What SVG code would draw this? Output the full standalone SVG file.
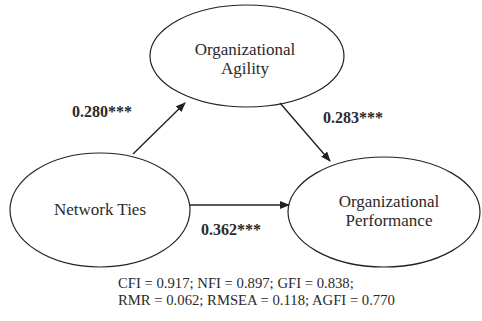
<svg xmlns="http://www.w3.org/2000/svg" width="482" height="321" viewBox="0 0 482 321">
<style>
.node{fill:#fff;stroke:#222;stroke-width:1.2}
.lbl{font-family:"Liberation Serif","Times New Roman",serif;font-size:17px;fill:#2a2a2a;text-anchor:middle}
.coef{font-family:"Liberation Serif","Times New Roman",serif;font-size:16px;font-weight:bold;fill:#2a2a2a}
.fit{font-family:"Liberation Serif","Times New Roman",serif;font-size:14.7px;fill:#2a2a2a}
.edge{stroke:#222;stroke-width:1.4;fill:none;marker-end:url(#ah)}
</style>
<defs>
<marker id="ah" markerWidth="10" markerHeight="8" refX="9" refY="4" orient="auto" markerUnits="userSpaceOnUse">
<path d="M0,0 L10,4 L0,8 Z" fill="#222"/>
</marker>
</defs>
<rect width="482" height="321" fill="#fff"/>
<g id="agility">
<ellipse class="node" cx="247" cy="56" rx="97" ry="51"/>
<text class="lbl" x="245" y="55">Organizational</text>
<text class="lbl" x="245" y="74">Agility</text>
</g>
<g id="network">
<ellipse class="node" cx="100" cy="210" rx="90" ry="57"/>
<text class="lbl" x="100" y="215">Network Ties</text>
</g>
<g id="performance">
<ellipse class="node" cx="384" cy="212" rx="96" ry="55"/>
<text class="lbl" x="389" y="207">Organizational</text>
<text class="lbl" x="389" y="226">Performance</text>
</g>
<g id="connectors">
<line class="edge" x1="133" y1="154" x2="185" y2="103"/>
<line class="edge" x1="280" y1="103" x2="330" y2="161"/>
<line class="edge" x1="190" y1="205" x2="289" y2="205"/>
</g>
<g id="labels">
<text class="coef" x="72" y="117">0.280***</text>
<text class="coef" x="323" y="123">0.283***</text>
<text class="coef" x="201" y="235">0.362***</text>
<text class="fit" x="118" y="288">CFI = 0.917; NFI = 0.897; GFI = 0.838;</text>
<text class="fit" x="118" y="305">RMR = 0.062; RMSEA = 0.118; AGFI = 0.770</text>
</g>
</svg>
